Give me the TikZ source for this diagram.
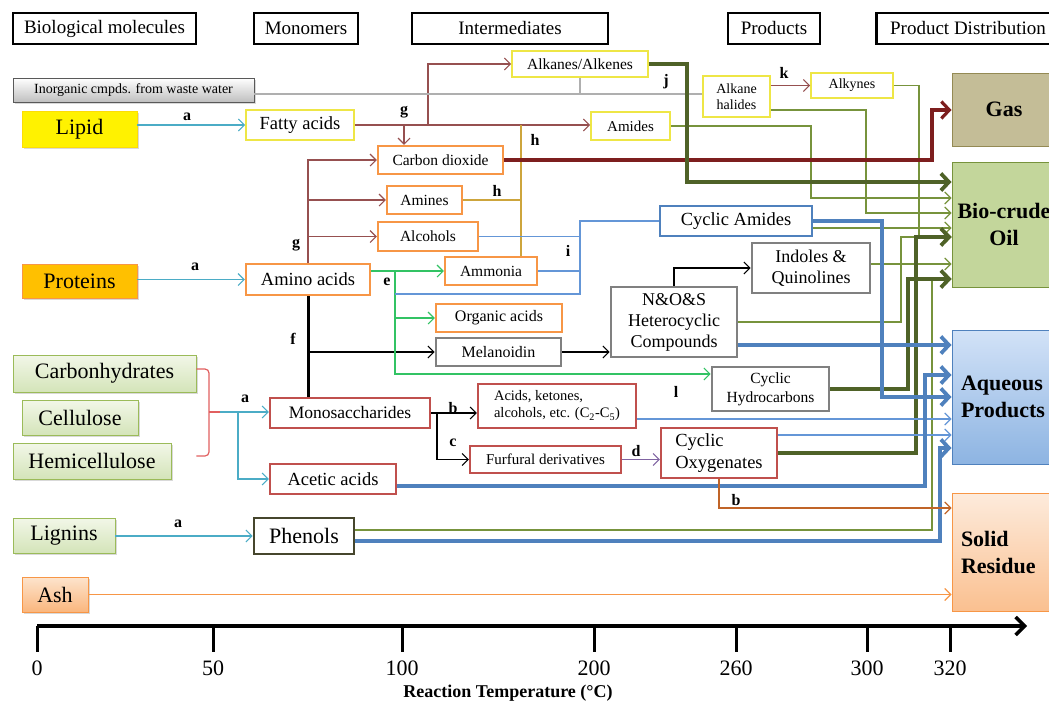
\documentclass[tikz,border=0pt]{standalone}
\usepackage{fontspec}
\setmainfont{Liberation Serif}
\usetikzlibrary{arrows.meta, shadows}

\definecolor{cyanln}{RGB}{75,172,198}
\definecolor{roseln}{RGB}{150,80,80}
\definecolor{goldln}{RGB}{205,165,60}
\definecolor{wineln}{RGB}{125,30,30}
\definecolor{oliveln}{RGB}{79,98,40}
\definecolor{sageln}{RGB}{119,147,60}
\definecolor{greenln}{RGB}{50,195,100}
\definecolor{skyln}{RGB}{100,150,215}
\definecolor{steelln}{RGB}{79,129,189}
\definecolor{purpleln}{RGB}{128,100,162}
\definecolor{rustln}{RGB}{192,100,40}
\definecolor{peachln}{RGB}{247,150,70}
\definecolor{greyln}{RGB}{175,175,175}
\definecolor{braceln}{RGB}{225,95,95}
\definecolor{bdyellow}{RGB}{238,230,70}
\definecolor{bdorange}{RGB}{247,150,70}
\definecolor{bdred}{RGB}{192,80,77}
\definecolor{bdgrey}{RGB}{128,128,128}
\definecolor{bdgreen}{RGB}{155,187,89}
\definecolor{bdphenol}{RGB}{70,70,45}
\definecolor{protfill}{RGB}{255,192,0}
\definecolor{leaftop}{RGB}{242,247,232}
\definecolor{leafbot}{RGB}{212,228,185}
\definecolor{ashtop}{RGB}{253,228,205}
\definecolor{ashbot}{RGB}{250,182,125}
\definecolor{gasfill}{RGB}{196,189,151}
\definecolor{gasdraw}{RGB}{148,138,84}
\definecolor{oilfill}{RGB}{195,214,155}
\definecolor{aqtop}{RGB}{210,226,247}
\definecolor{aqbot}{RGB}{141,180,226}
\definecolor{soltop}{RGB}{253,235,220}
\definecolor{solbot}{RGB}{250,192,144}

\tikzset{
  >={Straight Barb[length=6pt,width=12pt]},
  sz/.style 2 args={minimum width=#1pt, minimum height=#2pt, inner sep=0pt},
  hdr/.style={draw, line width=2.2pt, fill=white, font=\fontsize{19}{22}\selectfont},
  ybox/.style={draw=bdyellow, line width=1.6pt, fill=white},
  obox/.style={draw=bdorange, line width=2.4pt, fill=white},
  rbox/.style={draw=bdred, line width=2.2pt, fill=white},
  gbox/.style={draw=bdgrey, line width=2.6pt, fill=white},
  src/.style={draw=#1, line width=0.8pt,
    drop shadow={shadow xshift=1.5pt, shadow yshift=-2pt, opacity=0.3},
    font=\fontsize{22}{25}\selectfont},
  leaf/.style={src=bdgreen, top color=leaftop, bottom color=leafbot},
  dest/.style={draw=#1, line width=1pt, font=\bfseries\fontsize{22}{27}\selectfont},
  lbl/.style={font=\bfseries\fontsize{16}{18}\selectfont, inner sep=0pt},
  ln/.style={line width=1.1pt},
  fat/.style={line width=3.8pt, -{Straight Barb[length=8pt,width=17pt]}}
}

\begin{document}
\begin{tikzpicture}[x=1pt, y=-1pt]
\useasboundingbox (0,0) rectangle (1049,704);

% column headers
\node[hdr, sz={183}{31}] (hbio) at (104.5,28.5) {Biological molecules};
\node[hdr, sz={104}{31}] (hmono) at (306,28.5) {Monomers};
\node[hdr, sz={196}{31}] (hinter) at (510,28.5) {Intermediates};
\node[hdr, sz={92}{31}] (hprod) at (774,28.5) {Products};
\node[hdr, sz={183}{31}] (hdist) at (968,28.5) {Product Distribution};

% biological molecules
\node[src=black!65, top color=white, bottom color=black!25, sz={241}{24},
  font=\fontsize{14}{16}\selectfont] (inorg) at (133.5,90) {Inorganic cmpds. from waste water};
\node[src=yellow!80!orange, fill=yellow, sz={115}{36}] (lipid) at (79.5,129) {Lipid};
\node[src=bdorange, fill=protfill, sz={115}{34}] (proteins) at (79.5,281) {Proteins};
\node[leaf, sz={183}{37}] (carbo) at (104.5,373.5) {Carbonhydrates};
\node[leaf, sz={116}{35}] (cellu) at (80,417.5) {Cellulose};
\node[leaf, sz={158}{36}] (hemi) at (92,461) {Hemicellulose};
\node[leaf, sz={102}{35}] (lignins) at (64,535.5) {Lignins};
\node[src=bdorange, top color=ashtop, bottom color=ashbot, sz={66}{35}] (ash) at (55,594.5) {Ash};

% monomers
\node[ybox, sz={108}{30}, font=\fontsize{18.5}{21}\selectfont] (fatty) at (300,125) {Fatty acids};
\node[obox, sz={124}{31}, font=\fontsize{18.5}{21}\selectfont] (amino) at (308,279.5) {Amino acids};
\node[rbox, sz={160}{30}, font=\fontsize{17.5}{20}\selectfont] (mono) at (350,413) {Monosaccharides};
\node[rbox, sz={126}{30}, font=\fontsize{18.5}{21}\selectfont] (acetic) at (333,479) {Acetic acids};
\node[draw=bdphenol, line width=2.6pt, fill=white, sz={100}{36},
  font=\fontsize{22}{24}\selectfont] (phenols) at (304,536) {Phenols};

% intermediates
\node[ybox, sz={136}{26}, font=\fontsize{15.5}{18}\selectfont] (alkanes) at (580,64) {Alkanes/Alkenes};
\node[ybox, sz={79}{28}, font=\fontsize{15}{18}\selectfont] (amides) at (630.5,126) {Amides};
\node[obox, sz={125}{28}, font=\fontsize{15.5}{18}\selectfont] (co2) at (440.5,160) {Carbon dioxide};
\node[obox, sz={75}{28}, font=\fontsize{15.5}{18}\selectfont] (amines) at (424.5,200) {Amines};
\node[obox, sz={100}{29}, font=\fontsize{15.5}{18}\selectfont] (alcohols) at (428,236.5) {Alcohols};
\node[obox, sz={92}{28}, font=\fontsize{15.5}{18}\selectfont] (ammonia) at (491,271) {Ammonia};
\node[obox, sz={126}{28}, font=\fontsize{16}{18}\selectfont] (orgacids) at (499,318) {Organic acids};
\node[gbox, sz={125}{28}, font=\fontsize{16}{18}\selectfont] (melanoidin) at (498.5,352) {Melanoidin};
\node[rbox, sz={158}{44}, align=left, font=\fontsize{14.5}{17}\selectfont] (acids) at (557,406)
  {Acids, ketones,\\alcohols, etc. (C\textsubscript{2}-C\textsubscript{5})};
\node[rbox, sz={151}{27}, font=\fontsize{15}{18}\selectfont] (furfural) at (545.5,459.5) {Furfural derivatives};

% products
\node[draw=steelln, line width=2.6pt, fill=white, sz={152}{30},
  font=\fontsize{18.5}{21}\selectfont] (cycam) at (736,221) {Cyclic Amides};
\node[gbox, sz={118}{50}, align=center, font=\fontsize{18}{21}\selectfont] (indoles) at (811,268) {Indoles \&\\Quinolines};
\node[gbox, sz={126}{70}, align=center, font=\fontsize{18}{21}\selectfont] (nos) at (674,322) {N\&O\&S\\Heterocyclic\\Compounds};
\node[gbox, sz={117}{44}, align=center, font=\fontsize{15.5}{19}\selectfont] (cychyd) at (770.5,389) {Cyclic\\Hydrocarbons};
\node[rbox, sz={116}{50}, align=left, font=\fontsize{18.5}{22}\selectfont] (cycoxy) at (719,453) {Cyclic\\Oxygenates};
\node[ybox, sz={67}{41}, align=center, font=\fontsize{14}{16}\selectfont] (halides) at (736.5,96.5) {Alkane\\halides};
\node[ybox, sz={82}{25}, font=\fontsize{14}{16}\selectfont] (alkynes) at (852,85.5) {Alkynes};

% product distribution
\node[dest=gasdraw, fill=gasfill, sz={104}{73}] (gas) at (1004,109.5) {Gas};
\node[dest=sageln, fill=oilfill, sz={104}{125}, align=center] (oil) at (1004,224.5) {Bio-crude\\Oil};
\node[dest=steelln, top color=aqtop, bottom color=aqbot, sz={104}{134}, text width=86pt, align=left]
  (aq) at (1004,397) {Aqueous\\Products};
\node[dest=peachln, top color=soltop, bottom color=solbot, sz={104}{118}, text width=86pt, align=left]
  (solid) at (1004,552) {Solid\\Residue};

\coordinate (e1) at (395,271);
\coordinate (i1) at (580,221);
\coordinate (brace) at (220,412);

% lipid route
\draw[ln, cyanln, ->] (lipid.east|-fatty.west) -- (fatty.west);
\draw[ln, roseln, ->] (fatty.east) -- (amides.west|-fatty.east);
\draw[ln, roseln, ->] (428,125) |- (alkanes.west);
\draw[ln, roseln, ->] (404,125) -- (co2.north-|404,0);
\draw[ln, greyln, line width=1.5pt] (inorg.east|-0,94) -- (halides.west|-0,94);
\draw[ln, greyln, line width=1.5pt] (alkanes.south) -- (alkanes.south|-0,94);
\draw[ln, roseln, ->] (halides.east|-alkynes.west) -- (alkynes.west);

% protein route
\draw[ln, cyanln, ->] (proteins.east|-amino.west) -- (amino.west);
\foreach \n in {co2, amines, alcohols}
  \draw[ln, roseln, ->] (amino.north) |- (\n.west);
\draw[ln, goldln] (521,125) -- (ammonia.north-|521,0);
\draw[ln, goldln] (amines.east) -- (amines.east-|521,0);
\draw[line width=3pt] (amino.south) -- (amino.south|-mono.north);
\draw[ln, ->] (amino.south|-melanoidin.west) -- (melanoidin.west);
\draw[ln, greenln, ->] (amino.east|-ammonia.west) -- (ammonia.west);
\draw[ln, greenln, ->] (e1) |- (orgacids.west);
\draw[ln, greenln, ->] (e1) |- (cychyd.west|-0,374);
\draw[ln, skyln] (e1|-0,294) -| (i1) -- (cycam.west);
\draw[ln, skyln] (alcohols.east) -- (alcohols.east-|i1);
\draw[ln, skyln] (ammonia.east) -- (ammonia.east-|i1);
\draw[ln, ->] (melanoidin.east) -- (nos.west|-melanoidin.east);
\draw[ln, ->] (nos.north) |- (indoles.west);

% carbohydrate and lignin route
\draw[braceln, line width=1.2pt, rounded corners=4pt]
  (carbo.east|-0,369) -- (209,369) -- (209,456) -- (carbo.east|-0,456);
\draw[braceln, line width=1.2pt] (209,412) -- (brace);
\draw[ln, cyanln, ->] (brace) -- (mono.west|-brace);
\draw[ln, cyanln, ->] (238,412) |- (acetic.west);
\draw[ln, ->] (mono.east) -- (acids.west|-mono.east);
\draw[ln, ->] (437,413) |- (furfural.west);
\draw[ln, purpleln, ->] (furfural.east) -- (cycoxy.west|-furfural.east);
\draw[ln, cyanln, ->] (lignins.east|-phenols.west) -- (phenols.west);

% to bio-crude oil
\draw[ln, sageln, ->] (amides.east) -| (811,198) -- (oil.west|-0,198);
\draw[ln, sageln, ->] (halides.east|-0,110) -| (866,213) -- (oil.west|-0,213);
\draw[ln, sageln, ->] (cycam.east|-0,228) -- (oil.west|-0,228);
\draw[ln, sageln, ->] (indoles.east|-0,264) -- (oil.west|-0,264);
\draw[ln, sageln, ->] (alkynes.east) -| (919,237) -- (oil.west|-0,237);
\draw[ln, sageln, ->] (nos.east) -| (901,237) -- (oil.west|-0,237);
\draw[ln, sageln, ->] (phenols.east|-0,530) -| (932,279) -- (oil.west|-0,279);
\draw[fat, wineln, line width=3.2pt] (co2.east) -| (932,110) -- (gas.west|-0,110);
\draw[fat, oliveln] (alkanes.east) -| (687,182) -- (oil.west|-0,182);
\draw[fat, oliveln] (cycoxy.east) -| (916,237) -- (oil.west|-0,237);
\draw[fat, oliveln] (cychyd.east) -| (908,279) -- (oil.west|-0,279);

% to aqueous products
\draw[ln, skyln, ->] (acids.east|-0,419) -- (aq.west|-0,419);
\draw[ln, skyln, ->] (cycoxy.east|-0,435) -- (aq.west|-0,435);
\draw[fat, steelln] (cycam.east) -| (882,397) -- (aq.west|-0,397);
\draw[fat, steelln] (nos.east|-0,345) -- (aq.west|-0,345);
\draw[fat, steelln] (acetic.east|-0,486) -| (925,375) -- (aq.west|-0,375);
\draw[fat, steelln] (phenols.east|-0,541) -| (940,448) -- (aq.west|-0,448);

% to solid residue
\draw[ln, rustln, ->] (cycoxy.south) |- (solid.west|-0,508);
\draw[ln, peachln, ->] (ash.east) -- (solid.west|-ash.east);

% reaction letters
\foreach \t/\x/\y [count=\k] in {a/187/117, a/195/267, a/245/399, a/178/524,
  g/404/112, g/296/245, h/535/140, h/497/191, j/666/82, k/784/73, e/387/282,
  i/568/251, f/293/339, b/453/408, c/453/443, d/636/451, l/676/392, b/736/500}
  \node[lbl] (lab\k) at (\x,\y) {\t};

% temperature axis
\coordinate (ax0) at (37,626);
\coordinate (ax1) at (1027,626);
\draw[line width=3.5pt, -{Straight Barb[length=9pt,width=18pt]}] (ax0) -- (ax1);
\foreach \x/\t in {37/0, 213/50, 402/100, 594/200, 736/260, 867/300, 950/320} {
  \draw[line width=3pt] (\x,626) -- (\x,652);
  \node[font=\fontsize{22}{24}\selectfont] (tick\t) at (\x,668) {\t};
}
\node[font=\bfseries\fontsize{18}{21}\selectfont] (axtitle) at (508,693) {Reaction Temperature (°C)};
\end{tikzpicture}
\end{document}
